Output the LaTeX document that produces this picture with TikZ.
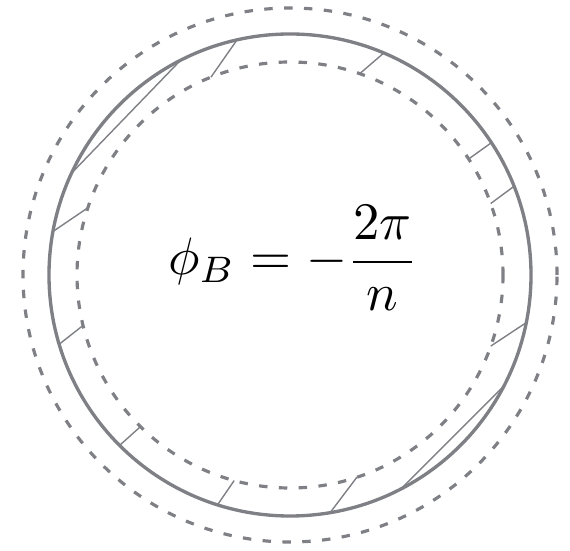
\documentclass[tikz,border=0pt]{standalone}
\usepackage{amsmath,amssymb}
\usepackage{tikz}
\definecolor{ringgray}{HTML}{7F8085}

\begin{document}
\begin{tikzpicture}[x=0.02cm,y=0.02cm,
    rim/.style={draw=ringgray,line width=1.9pt},
    ghost/.style={draw=ringgray,line width=1.8pt,dash pattern=on 4.8pt off 6.5pt},
    hatch/.style={draw=ringgray,line width=0.8pt}]
  \useasboundingbox (-290,-275) rectangle (280,275);
  % ring and its two dashed neighbours
  \draw[ghost] (0,0) circle (267);
  \draw[rim] (0,0) circle (241);
  \draw[ghost] (0,0) circle (213);
  % short strokes from the ring inwards
  \foreach \a/\b in {21.6/19.6,33.3/33,67.1/70.9,102.7/111.8,169.6/161.6,
                     196.7/193.7,225/225.4,252.5/254.8,279.6/288.3,348.6/340.5}
    \draw[hatch] (\a:241) -- (\b:213);
  % the two chords
  \draw[hatch] (117:241) -- (155:241);
  \draw[hatch] (297.4:241) -- (332.6:241);
  \node[scale=3.0] (phiB) at (3,17) {$\displaystyle \phi_B=-\frac{2\pi}{n}$};
\end{tikzpicture}
\end{document}
